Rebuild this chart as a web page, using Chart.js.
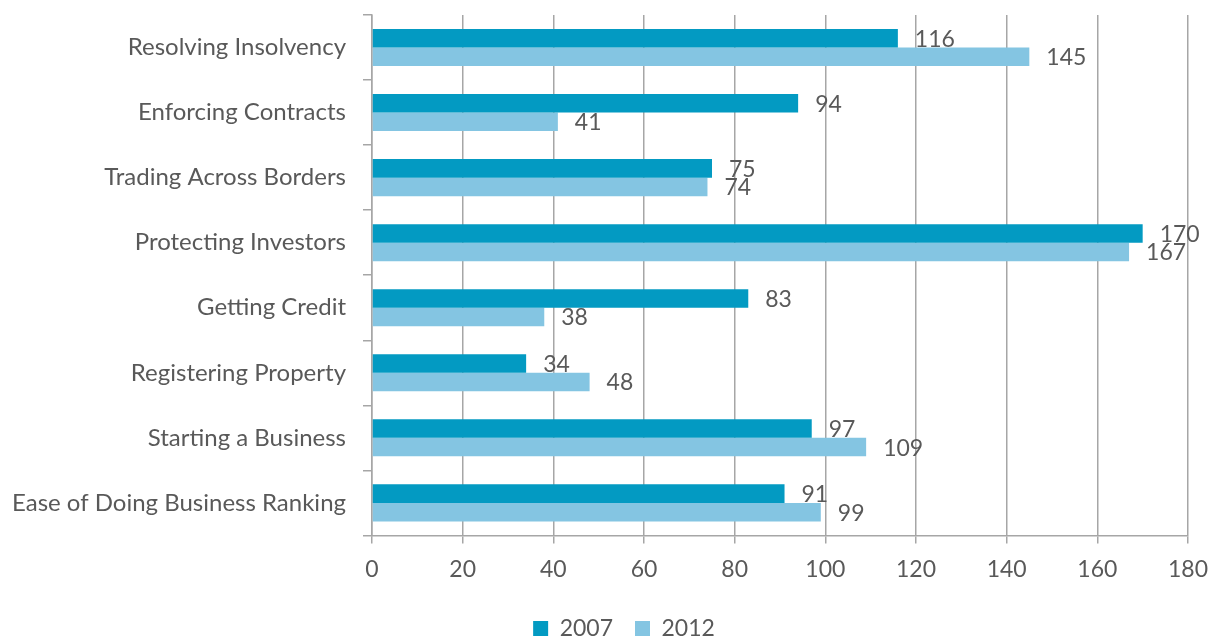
<!DOCTYPE html>
<html>
<head>
<meta charset="utf-8">
<script src="https://cdn.jsdelivr.net/npm/chart.js@4"></script>
<style>
    html, body { margin: 0; padding: 0; background: #fff; overflow: hidden; }
    #wrap { width: 1211px; height: 637px; overflow: hidden; }
</style>
</head>
<body>
<div id="wrap"><canvas id="rankingChart" width="1211" height="650"></canvas></div>
<script>
const categories = [
    'Resolving Insolvency',
    'Enforcing Contracts',
    'Trading Across Borders',
    'Protecting Investors',
    'Getting Credit',
    'Registering Property',
    'Starting a Business',
    'Ease of Doing Business Ranking'
];
const rank2007 = [116, 94, 75, 170, 83, 34, 97, 91];
const rank2012 = [145, 41, 74, 167, 38, 48, 109, 99];
const xTicks = [0, 20, 40, 60, 80, 100, 120, 140, 160, 180];

const textColor = '#595959';
const gridColor = '#A6A6A6';
const fontFamily = 'Lato, "Open Sans", sans-serif';

// Writes each bar's value just past its end
const valueLabels = {
    id: 'valueLabels',
    afterDatasetsDraw(chart) {
        const ctx = chart.ctx;
        const xScale = chart.scales.x;
        ctx.save();
        ctx.font = '23px ' + fontFamily;
        ctx.fillStyle = textColor;
        ctx.textAlign = 'left';
        ctx.textBaseline = 'middle';
        chart.data.datasets.forEach((ds, i) => {
            chart.getDatasetMeta(i).data.forEach((bar, j) => {
                const x = xScale.getPixelForValue(ds.data[j]) + 17;
                ctx.fillText(String(ds.data[j]), x, bar.y + 1);
            });
        });
        ctx.restore();
    }
};

// Nudge the legend a little to the right of the canvas centre
const legendShift = {
    id: 'legendShift',
    afterLayout(chart) {
        if (chart.legend) {
            chart.legend.left += 19;
            chart.legend.right += 19;
        }
    }
};

const ctx = document.getElementById('rankingChart').getContext('2d');
new Chart(ctx, {
    type: 'bar',
    data: {
        labels: categories,
        datasets: [
            { label: '2007', data: rank2007, backgroundColor: '#039AC2' },
            { label: '2012', data: rank2012, backgroundColor: '#84C5E2' }
        ]
    },
    options: {
        indexAxis: 'y',
        responsive: false,
        animation: false,
        categoryPercentage: 0.57,
        barPercentage: 1.0,
        layout: { padding: { left: 4, right: 5, top: 15, bottom: 0 } },
        plugins: {
            legend: {
                position: 'bottom',
                labels: {
                    boxWidth: 15,
                    boxHeight: 15,
                    padding: 22,
                    color: textColor,
                    font: { family: fontFamily, size: 23 }
                }
            },
            tooltip: { enabled: false }
        },
        scales: {
            x: {
                min: 0,
                max: 180,
                afterBuildTicks(scale) {
                    scale.ticks = xTicks.map(v => ({ value: v }));
                },
                afterFit(scale) { scale.paddingRight = 23; },
                grid: { color: gridColor, lineWidth: 1.5, tickLength: 8 },
                border: { color: gridColor, width: 1.5 },
                ticks: {
                    padding: 12,
                    color: textColor,
                    font: { family: fontFamily, size: 23 }
                }
            },
            y: {
                afterFit(scale) {
                    scale.width = 368;
                    scale.paddingTop = 0;
                    scale.paddingBottom = 0;
                },
                grid: { offset: true, drawOnChartArea: false, color: gridColor, lineWidth: 1.5, tickLength: 9 },
                border: { color: gridColor, width: 1.5 },
                ticks: {
                    padding: 17,
                    color: textColor,
                    font: { family: fontFamily, size: 24 }
                }
            }
        }
    },
    plugins: [valueLabels, legendShift]
});
</script>
</body>
</html>
